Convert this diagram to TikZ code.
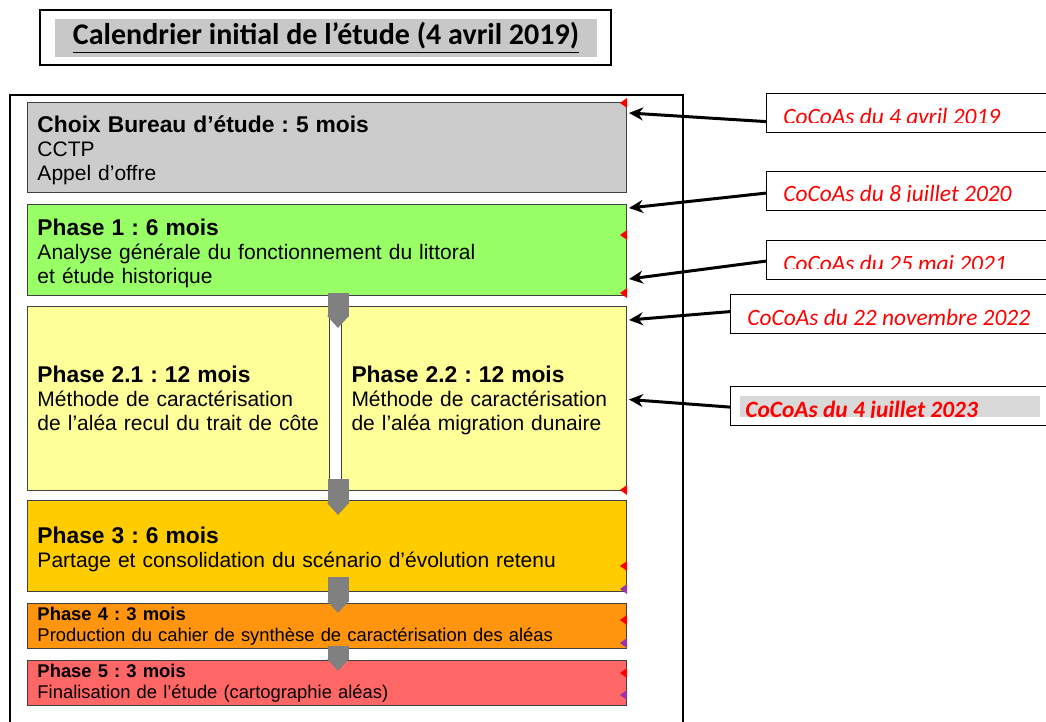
\documentclass[tikz,border=0pt]{standalone}
\usepackage{fontspec}
\setmainfont{Liberation Sans}
\newfontfamily\carlito{Carlito}
\usetikzlibrary{arrows.meta,positioning}
\frenchspacing
\definecolor{choixgray}{HTML}{CCCCCC}
\definecolor{phaseone}{HTML}{99FF66}
\definecolor{phasetwo}{HTML}{FFFF99}
\definecolor{phasethree}{HTML}{FFCC00}
\definecolor{phasefour}{HTML}{FF950E}
\definecolor{phasefive}{HTML}{FF6666}
\definecolor{flowgray}{HTML}{808080}
\definecolor{titlegray}{HTML}{C8C8C8}
\definecolor{lastgray}{HTML}{D9D9D9}
\definecolor{markpurple}{HTML}{9933AA}
\newcommand\phasehead[1]{{\bfseries\fontsize{11.4}{12}\selectfont\rule{0pt}{11.3pt}#1}}
\tikzset{
  phasebox/.style={draw=black!75, line width=0.5pt, anchor=north west, align=left, inner xsep=5pt, inner ysep=0pt},
  bigtext/.style={font=\fontsize{10.5}{12}\selectfont},
  smalltext/.style={font=\fontsize{9.2}{10.4}\selectfont},
  callout/.style={draw=black, line width=0.6pt, fill=white, anchor=north west, minimum width=160pt, minimum height=19.5pt, inner sep=0pt},
  datetext/.style={anchor=base west, inner sep=0pt, text=red, font=\carlito\itshape\fontsize{11.7}{13}\selectfont},
  flow/.style={line width=10.5pt, draw=flowgray, -{Triangle[length=6pt,width=10.5pt]}},
  pointer/.style={line width=1.5pt, -{Stealth[length=7pt,width=6.5pt]}}
}
\begin{document}
\begin{tikzpicture}[x=0.5pt, y=-0.5pt]
\useasboundingbox (0,0) rectangle (1046,722);
% titre
\node[draw=black, line width=0.75pt, minimum width=285.5pt, minimum height=27.5pt] (titlebox) at (325.5,37.5) {};
\node[fill=titlegray, minimum width=271pt, minimum height=19pt, inner sep=0pt, font=\carlito\bfseries\fontsize{15}{18}\selectfont] (title) at (326,38) {\underline{Calendrier initial de l’étude (4 avril 2019)}};
% cadre
\draw[line width=0.6pt] (10,740) -- (10,95) -- (683,95) -- (683,740);
% phases
\node[phasebox, bigtext, fill=choixgray, text width=289.5pt, minimum height=45pt] (choix) at (27,102) {\phasehead{Choix Bureau d’étude : 5 mois}\\CCTP\\Appel d’offre};
\node[phasebox, bigtext, fill=phaseone, text width=289.5pt, minimum height=45.5pt] (phase1) at (27,204) {\phasehead{Phase 1 : 6 mois}\\Analyse générale du fonctionnement du littoral\\et étude historique};
\node[phasebox, bigtext, fill=phasetwo, text width=141pt, minimum height=92pt] (phase21) at (27,306) {\phasehead{Phase 2.1 : 12 mois}\\Méthode de caractérisation\\de l'aléa recul du trait de côte\strut};
\node[phasebox, bigtext, fill=phasetwo, text width=132.5pt, minimum height=92pt] (phase22) at (341,306) {\phasehead{Phase 2.2 : 12 mois}\\Méthode de caractérisation\\de l'aléa migration dunaire\strut};
\node[phasebox, bigtext, fill=phasethree, text width=289.5pt, minimum height=45.5pt] (phase3) at (27,500) {\phasehead{Phase 3 : 6 mois}\\Partage et consolidation du scénario d’évolution retenu};
\node[phasebox, smalltext, fill=phasefour, text width=289.5pt, minimum height=22.5pt] (phase4) at (27,603) {{\bfseries Phase 4 : 3 mois}\\Production du cahier de synthèse de caractérisation des aléas};
\node[phasebox, smalltext, fill=phasefive, text width=289.5pt, minimum height=22.5pt] (phase5) at (27,660) {{\bfseries Phase 5 : 3 mois}\\Finalisation de l'étude (cartographie aléas)};
% petits reperes
\foreach \y in {103,235,293,490,566,620,673} \fill[red] (627,\y-5) -- (620,\y) -- (627,\y+5) -- cycle;
\foreach \y in {589,643,695} \fill[markpurple] (627,\y-5) -- (620,\y) -- (627,\y+5) -- cycle;
% fleches grises
\coordinate (axis) at (338,0);
\draw[flow] ([yshift=1.5pt]axis |- phase1.south) -- ([yshift=-11pt]axis |- phase21.north);
\draw[flow] ([yshift=6pt]axis |- phase21.south) -- ([yshift=-7.5pt]axis |- phase3.north);
\draw[flow] ([yshift=7.5pt]axis |- phase3.south) -- ([yshift=-5pt]axis |- phase4.north);
\draw[flow] ([yshift=1.5pt]axis |- phase4.south) -- ([yshift=-5.5pt]axis |- phase5.north);
% CoCoAs
\node[callout] (call1) at (766,93) {};
\node[callout] (call2) at (766,171) {};
\node[callout] (call3) at (766,240) {};
\node[callout, minimum width=178pt] (call4) at (730,294) {};
\node[callout, minimum width=178pt] (call5) at (730,386) {};
\fill[lastgray] (740,396) rectangle (1040,417);
\begin{scope}
\clip (766,93) rectangle (1046,123);
\node[datetext] (date1) at (783,125) {CoCoAs du 4 avril 2019};
\end{scope}
\begin{scope}
\clip (766,171) rectangle (1046,202);
\node[datetext] (date2) at (783,202) {CoCoAs du 8 juillet 2020};
\end{scope}
\begin{scope}
\clip (766,240) rectangle (1046,269);
\node[datetext] (date3) at (783,271) {CoCoAs du 25 mai 2021};
\end{scope}
\begin{scope}
\clip (730,294) rectangle (1046,325);
\node[datetext] (date4) at (747,326) {CoCoAs du 22 novembre 2022};
\end{scope}
\begin{scope}
\clip (730,386) rectangle (1046,417);
\node[datetext, font=\carlito\bfseries\itshape\fontsize{11.7}{13}\selectfont] (date5) at (745,417) {CoCoAs du 4 juillet 2023};
\end{scope}
\draw[pointer] ([yshift=-4.25pt]call1.west) -- ([xshift=1pt,yshift=-5.5pt]choix.north east);
\draw[pointer] ([yshift=-1pt]call2.west) -- ([xshift=1pt,yshift=-2pt]phase1.north east);
\draw[pointer] ([yshift=-0.5pt]call3.west) -- ([xshift=1pt,yshift=8.5pt]phase1.south east);
\draw[pointer] ([yshift=1.25pt]call4.west) -- ([xshift=1pt,yshift=-7pt]phase22.north east);
\draw[pointer] ([yshift=-0.5pt]call5.west) -- ([xshift=1pt,yshift=-0.5pt]phase22.east);
\end{tikzpicture}
\end{document}
